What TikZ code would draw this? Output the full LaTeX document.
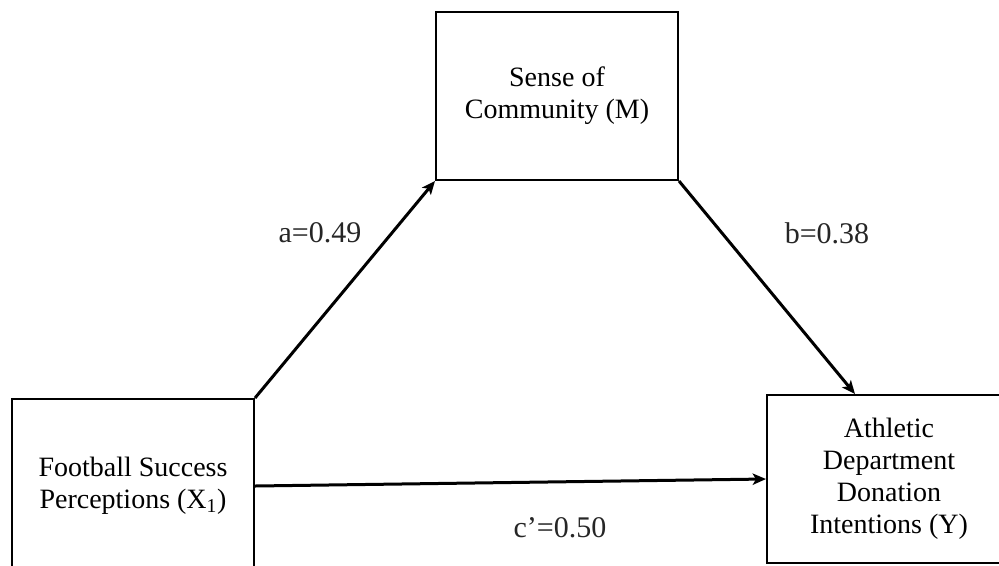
\documentclass[tikz,border=0pt]{standalone}
\usepackage{fontspec}
\setmainfont{Liberation Serif}
\usetikzlibrary{arrows.meta}
\tikzset{
  varbox/.style={draw,thick,line width=1.5pt,rectangle,align=center,inner sep=0pt,
    minimum width=181.5pt,minimum height=126pt,font=\fontsize{21}{24}\selectfont},
  pathline/.style={line width=2.25pt,-{Stealth[length=10pt,width=8.5pt,inset=2.5pt]}},
  coef/.style={font=\fontsize{22.5}{26}\selectfont,text=black!85}
}
\begin{document}
\begin{tikzpicture}[x=0.75pt,y=-0.75pt]
\useasboundingbox (0,0) rectangle (999,565);
\clip (0,0) rectangle (999,565);
  \node [varbox] (m) at (557,96) {Sense of\\Community (M)};
  \node [varbox,minimum height=130.5pt] (x) at (133,486) {Football Success\\Perceptions (X\textsubscript{1})};
  \node [varbox,minimum width=183pt] (y) at (889,479) {Athletic\\Department\\Donation\\Intentions (Y)};

\draw [pathline] (x.north east) to (m.south west);
\draw [pathline] (m.south east) to ([xshift=-25.5pt]y.north);
\draw [pathline] (x.east) to (y.west);

  \node [coef] (a) at (320,233) {a=0.49};
  \node [coef] (b) at (827,233) {b=0.38};
  \node [coef] (c) at (560,528) {c’=0.50};
\end{tikzpicture}
\end{document}
